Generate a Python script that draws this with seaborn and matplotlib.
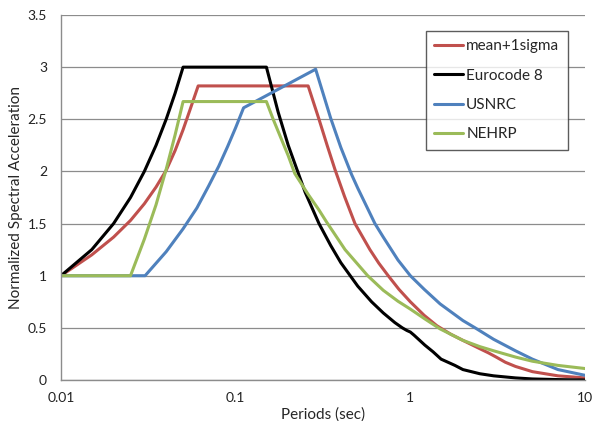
import pandas as pd
import matplotlib
matplotlib.use('Agg')
import matplotlib.pyplot as plt
import seaborn as sns

# periods (sec) and normalized spectral acceleration
t_mean = [0.01, 0.015, 0.02, 0.025, 0.03, 0.035, 0.04, 0.045, 0.05, 0.055, 0.061,
          0.26, 0.3, 0.334, 0.37, 0.42, 0.482, 0.587, 0.66, 0.747, 0.86, 1.0, 1.2,
          1.42, 1.7, 2.0, 2.5, 2.8, 3.1, 3.5, 4.0, 5.0, 7.0, 10.0]
sa_mean = [1.0, 1.2, 1.37, 1.53, 1.69, 1.85, 2.01, 2.2, 2.4, 2.6, 2.82,
           2.82, 2.5, 2.25, 2.02, 1.76, 1.5, 1.25, 1.12, 1.0, 0.87, 0.75, 0.62,
           0.52, 0.44, 0.38, 0.3, 0.26, 0.22, 0.17, 0.13, 0.08, 0.04, 0.02]

t_ec8 = [0.01, 0.015, 0.02, 0.025, 0.03, 0.035, 0.04, 0.045, 0.05, 0.15, 0.175,
         0.2, 0.25, 0.3, 0.35, 0.4, 0.5, 0.6, 0.7, 0.816, 0.9, 0.955, 1.0, 1.05,
         1.21, 1.35, 1.5, 1.8, 2.0, 2.5, 3.0, 4.0, 5.0, 7.0, 10.0]
sa_ec8 = [1.0, 1.25, 1.5, 1.75, 2.0, 2.25, 2.5, 2.75, 3.0, 3.0, 2.57,
          2.25, 1.8, 1.5, 1.29, 1.125, 0.9, 0.75, 0.643, 0.55, 0.5, 0.475, 0.46, 0.43,
          0.335, 0.27, 0.2, 0.14, 0.1, 0.06, 0.04, 0.02, 0.01, 0.004, 0.0]

t_usnrc = [0.01, 0.0303, 0.04, 0.05, 0.06, 0.07, 0.08, 0.09, 0.1, 0.111, 0.287,
           0.35, 0.4, 0.461, 0.5, 0.627, 0.7, 0.85, 1.0, 1.2, 1.48, 2.0, 2.35,
           3.0, 4.0, 5.0, 7.0, 10.0]
sa_usnrc = [1.0, 1.0, 1.23, 1.45, 1.65, 1.86, 2.05, 2.24, 2.42, 2.61, 2.98,
            2.51, 2.23, 1.97, 1.84, 1.5, 1.37, 1.15, 1.0, 0.87, 0.73, 0.57, 0.5,
            0.39, 0.28, 0.2, 0.1, 0.045]

t_nehrp = [0.01, 0.025, 0.03, 0.035, 0.04, 0.045, 0.05, 0.15, 0.164, 0.2, 0.218,
           0.26, 0.3, 0.33, 0.423, 0.57, 0.7, 0.85, 1.0, 1.2, 1.48, 2.0, 2.5,
           3.0, 4.0, 5.0, 7.0, 10.0]
sa_nehrp = [1.0, 1.0, 1.35, 1.68, 2.02, 2.35, 2.67, 2.67, 2.5, 2.15, 1.98,
            1.78, 1.63, 1.52, 1.25, 1.0, 0.86, 0.755, 0.68, 0.59, 0.49, 0.38, 0.32,
            0.28, 0.22, 0.18, 0.14, 0.11]

series = ['mean+1sigma', 'Eurocode 8', 'USNRC', 'NEHRP']
colors = ['#C0504D', '#000000', '#4F81BD', '#9BBB59']

frames = []
for name, t, sa in zip(series, [t_mean, t_ec8, t_usnrc, t_nehrp],
                       [sa_mean, sa_ec8, sa_usnrc, sa_nehrp]):
    frames.append(pd.DataFrame({'Period': t, 'Sa': sa, 'Spectrum': name}))
data = pd.concat(frames, ignore_index=True)

sns.set_style('white')
plt.rcParams['font.family'] = ['Lato', 'DejaVu Sans']

fig = plt.figure(figsize=(5.92, 4.21), dpi=100)
ax = fig.add_axes([61 / 592, 41 / 421, 524 / 592, 365 / 421])

sns.lineplot(data=data, x='Period', y='Sa', hue='Spectrum', hue_order=series,
             palette=dict(zip(series, colors)), sort=False, estimator=None,
             linewidth=2.2, ax=ax)

ax.set_xscale('log')
ax.set_xlim(0.01, 10)
ax.set_ylim(0, 3.5)
ax.set_xticks([0.01, 0.1, 1, 10])
ax.set_xticklabels(['0.01', '0.1', '1', '10'])
ax.set_xticks([], minor=True)
ax.set_yticks([0, 0.5, 1, 1.5, 2, 2.5, 3, 3.5])
ax.set_yticklabels(['0', '0.5', '1', '1.5', '2', '2.5', '3', '3.5'])
ax.tick_params(axis='both', length=0, labelsize=10, colors='#222222')
ax.tick_params(axis='x', pad=9)
ax.tick_params(axis='y', pad=10)

ax.grid(axis='y', color='#8C8C8C', linewidth=0.9)
ax.set_axisbelow(True)
for side in ['top', 'right']:
    ax.spines[side].set_visible(False)
for side in ['left', 'bottom']:
    ax.spines[side].set_color('#8C8C8C')
    ax.spines[side].set_linewidth(1.0)

ax.set_xlabel('Periods (sec)', fontsize=11, labelpad=2)
ax.set_ylabel('Normalized Spectral Acceleration', fontsize=11, labelpad=3)

leg = ax.legend(loc='upper left', bbox_to_anchor=(0.696, 0.956), fontsize=11,
                frameon=True, fancybox=False, shadow=False, handlelength=1.9,
                handletextpad=0.2, labelspacing=1.0, borderpad=0.55,
                borderaxespad=0)
leg.get_frame().set_edgecolor('#333333')
leg.get_frame().set_linewidth(1.0)
for line in leg.get_lines():
    line.set_linewidth(2.2)

fig.savefig('out.png', dpi=100)
